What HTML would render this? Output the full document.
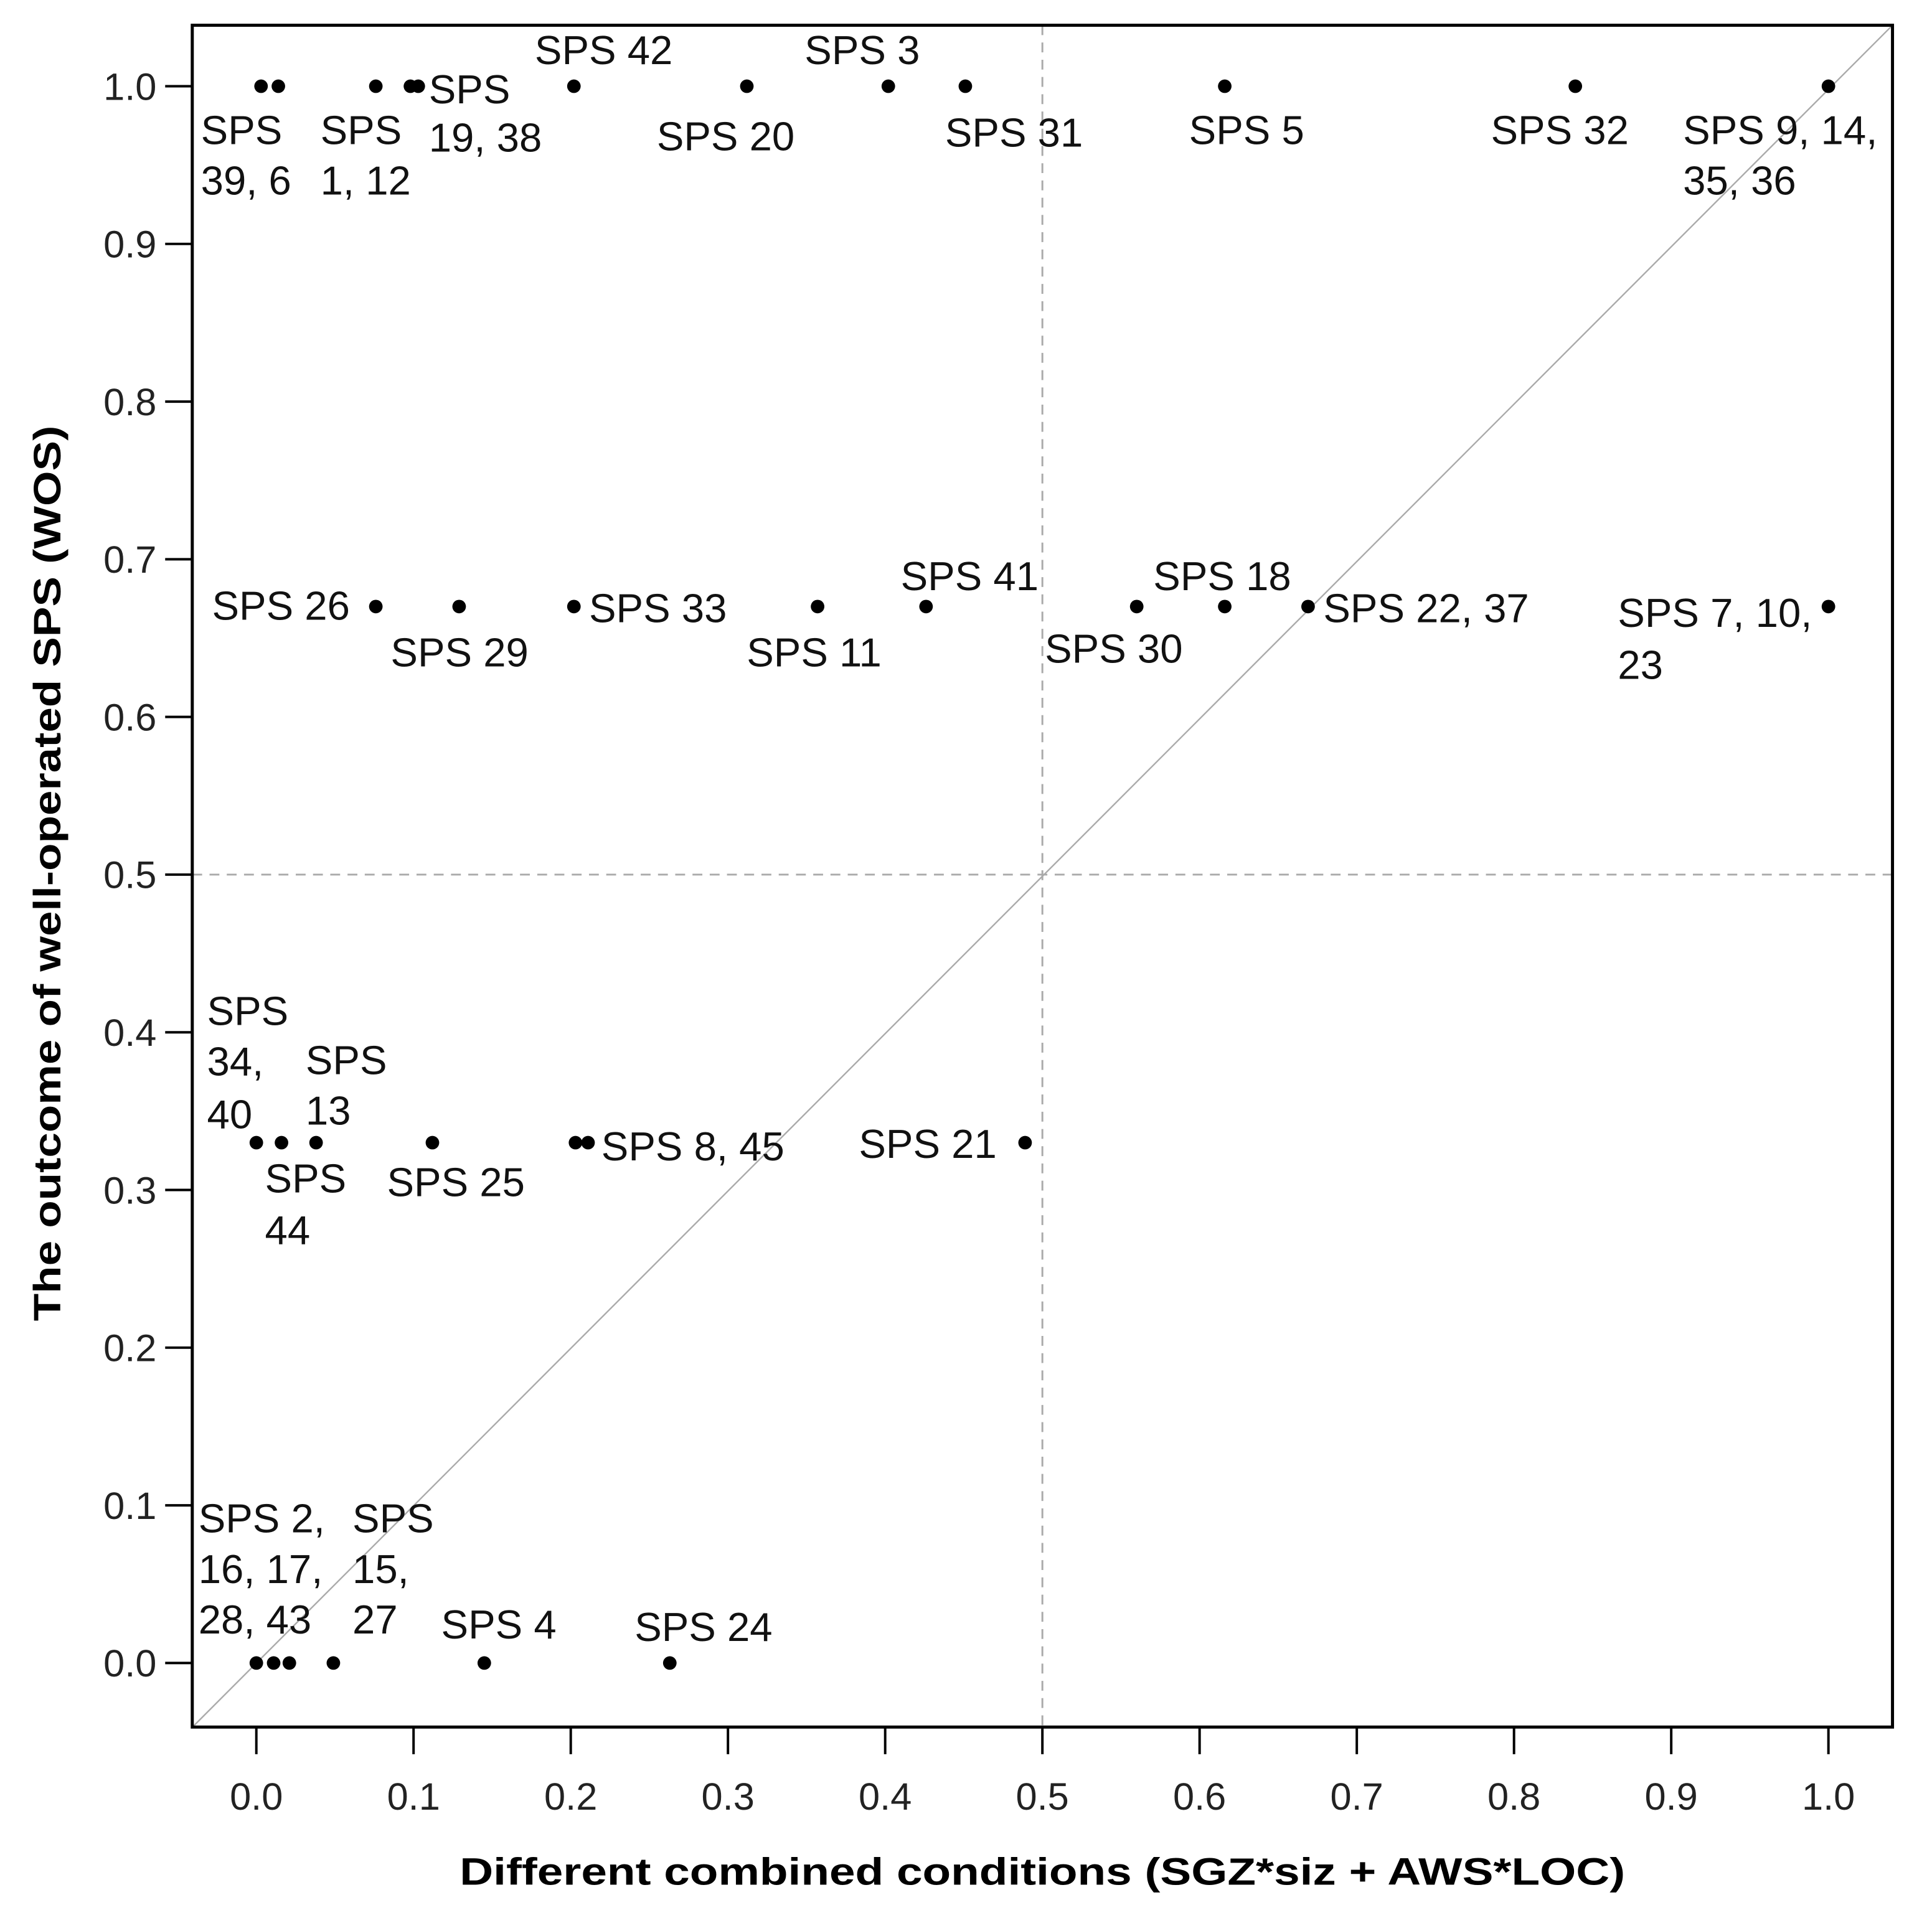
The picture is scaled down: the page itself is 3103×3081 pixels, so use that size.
<!DOCTYPE html>
<html><head><meta charset="utf-8"><style>
html,body{margin:0;padding:0;background:#fff;}
svg{display:block;font-family:"Liberation Sans",Arial,sans-serif;}
</style></head><body>
<svg id="chart" width="3103" height="3081" viewBox="0 0 1568 1557" xmlns="http://www.w3.org/2000/svg">
<rect x="0" y="0" width="1568" height="1557" fill="#fff"/>
<g id="grid"></g>
<g id="points"></g>
<g id="labels" font-size="33" fill="#111"></g>
<rect x="156" y="20.5" width="1380" height="1381.5" fill="none" stroke="#000" stroke-width="2.5"/>
<g id="axes"></g>
<text x="846" y="1530" text-anchor="middle" font-size="31" font-weight="bold" textLength="946" lengthAdjust="spacingAndGlyphs">Different combined conditions (SGZ*siz + AWS*LOC)</text>
<text transform="translate(49,709) rotate(-90)" text-anchor="middle" font-size="31" font-weight="bold" textLength="727" lengthAdjust="spacingAndGlyphs">The outcome of well-operated SPS (WOS)</text>
</svg>
<script>
const xTicks = [0,0.1,0.2,0.3,0.4,0.5,0.6,0.7,0.8,0.9,1.0];
const yTicks = [0,0.1,0.2,0.3,0.4,0.5,0.6,0.7,0.8,0.9,1.0];
const pointX = [0.003,0.014,0.076,0.098,0.103,0.202,0.312,0.402,0.451,0.616,0.839,1.0,
  0.076,0.129,0.202,0.357,0.426,0.56,0.616,0.669,1.0,
  0.0,0.016,0.038,0.112,0.203,0.211,0.489,
  0.0,0.011,0.021,0.049,0.145,0.263];
const pointY = [1,1,1,1,1,1,1,1,1,1,1,1,
  0.67,0.67,0.67,0.67,0.67,0.67,0.67,0.67,0.67,
  0.33,0.33,0.33,0.33,0.33,0.33,0.33,
  0,0,0,0,0,0];
const labelLines = [
  ["SPS",163,117],["39, 6",163,158],["SPS",260,117],["1, 12",260,158],
  ["SPS",348,84],["19, 38",348,123],["SPS 42",434,52],["SPS 20",533,122],
  ["SPS 3",653,52],["SPS 31",767,119],["SPS 5",965,117],["SPS 32",1210,117],
  ["SPS 9, 14,",1366,117],["35, 36",1366,158],
  ["SPS 26",172,503],["SPS 29",317,541],["SPS 33",478,505],["SPS 11",606,541],
  ["SPS 41",731,479],["SPS 18",936,479],["SPS 30",848,538],["SPS 22, 37",1074,505],
  ["SPS 7, 10,",1313,509],["23",1313,551],
  ["SPS",168,832],["34,",168,873],["40",168,916],["SPS",248,872],["13",248,913],
  ["SPS",215,968],["44",215,1010],["SPS 25",314,971],["SPS 8, 45",488,942],["SPS 21",697,940],
  ["SPS 2,",161,1244],["16, 17,",161,1285],["28, 43",161,1326],
  ["SPS",286,1244],["15,",286,1285],["27",286,1326],
  ["SPS 4",358,1330],["SPS 24",515,1332]
];
const NS="http://www.w3.org/2000/svg";
const X0=208,X1=1484,Y0=1350,Y1=70;
function sx(v){return X0+(X1-X0)*v;}
function sy(v){return Y0-(Y0-Y1)*v;}
function mk(tag,attrs,parent){const e=document.createElementNS(NS,tag);for(const k in attrs)e.setAttribute(k,attrs[k]);parent.appendChild(e);return e;}
const grid=document.getElementById('grid'),pts=document.getElementById('points'),axes=document.getElementById('axes'),lab=document.getElementById('labels');
// diagonal y=x clipped to frame
let vL=(156-X0)/(X1-X0), vR=(1536-X0)/(X1-X0);
let diag=mk('line',{x1:sx(vL),y1:sy(vL),x2:sx(vR),y2:Math.max(sy(vR),20.5),stroke:'#aaa','stroke-width':1.2},grid);


let vd=mk('line',{x1:sx(0.5),y1:20.5,x2:sx(0.5),y2:1402,stroke:'#aaa','stroke-width':1.5,'stroke-dasharray':'8,6'},grid);


let hd=mk('line',{x1:156,y1:sy(0.5),x2:1536,y2:sy(0.5),stroke:'#aaa','stroke-width':1.5,'stroke-dasharray':'8,6'},grid);


for(let i=0;i<pointX.length;i++){
  const c=mk('circle',{cx:sx(pointX[i]),cy:sy(pointY[i]),r:5.5,fill:'#000'},pts);
  
  
}
for(const t of xTicks){
  const l=mk('line',{x1:sx(t),y1:1402,x2:sx(t),y2:1424,stroke:'#000','stroke-width':2},axes);
  
  
  const tx=mk('text',{x:sx(t),y:1469,'text-anchor':'middle','font-size':31,fill:'#222'},axes);
  tx.textContent=t.toFixed(1);
  
  
}
for(const t of yTicks){
  const l=mk('line',{x1:134,y1:sy(t),x2:156,y2:sy(t),stroke:'#000','stroke-width':2},axes);
  
  
  const tx=mk('text',{x:127,y:sy(t)+11,'text-anchor':'end','font-size':31,fill:'#222'},axes);
  tx.textContent=t.toFixed(1);
  
  
}
for(const [s,x,y] of labelLines){
  const tx=mk('text',{x:x,y:y},lab);
  tx.textContent=s;
  
  
}
</script>
</body></html>
